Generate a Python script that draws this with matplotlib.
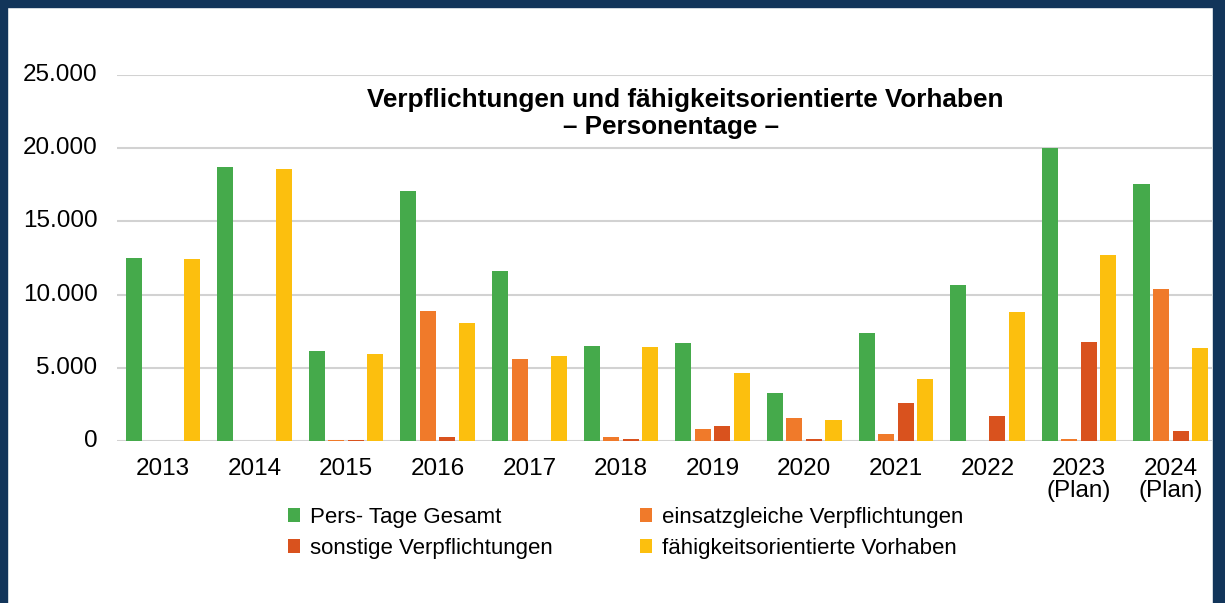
import matplotlib
matplotlib.use("Agg")
import matplotlib.pyplot as plt
import numpy as np
from matplotlib.patches import Rectangle
from matplotlib.ticker import FuncFormatter

plt.rcParams['font.family'] = ['Liberation Sans', 'DejaVu Sans']

# Data (Personentage)
years = ['2013', '2014', '2015', '2016', '2017', '2018', '2019', '2020', '2021', '2022',
         '2023\n(Plan)', '2024\n(Plan)']
pers_tage_gesamt = [12500, 18700, 6150, 17050, 11600, 6500, 6700, 3300, 7400, 10650, 20000, 17550]
einsatzgleiche = [0, 0, 100, 8900, 5600, 270, 820, 1570, 480, 0, 130, 10380]
sonstige = [0, 0, 100, 270, 0, 130, 1020, 130, 2600, 1720, 6760, 680]
faehigkeitsorientiert = [12450, 18580, 5950, 8060, 5800, 6400, 4650, 1430, 4230, 8810, 12700, 6350]

series = [
    ('Pers- Tage Gesamt', pers_tage_gesamt, '#45aa4b'),
    ('einsatzgleiche Verpflichtungen', einsatzgleiche, '#f07a2a'),
    ('sonstige Verpflichtungen', sonstige, '#d9521e'),
    ('fähigkeitsorientierte Vorhaben', faehigkeitsorientiert, '#fcbf0e'),
]

W, H = 1225, 603
fig = plt.figure(figsize=(W / 100, H / 100), dpi=100)
fig.patch.set_facecolor('white')

# dark navy frame around the picture
navy = '#12355a'
fig.patches.append(Rectangle((0, 0), 7 / W, 1, transform=fig.transFigure, color=navy, zorder=0))
fig.patches.append(Rectangle((0, 1 - 7 / H), 1, 7 / H, transform=fig.transFigure, color=navy, zorder=0))
fig.patches.append(Rectangle((1 - 12 / W, 0), 12 / W, 1, transform=fig.transFigure, color=navy, zorder=0))

ax = fig.add_axes([117 / W, (H - 441) / H, (1212 - 117) / W, (441 - 75) / H])
ax.set_facecolor('white')

x = np.arange(len(years))
step = 0.213
width = 0.175
handles = []
for i, (label, vals, col) in enumerate(series):
    bars = ax.bar(x + (i - 1.5) * step, vals, width, color=col, label=label, zorder=3)
    handles.append(bars)

ax.set_xlim(-0.5, 11.45)
ax.set_ylim(0, 25000)
ax.set_yticks(range(0, 25001, 5000))
ax.yaxis.set_major_formatter(FuncFormatter(lambda v, p: f'{int(v):,}'.replace(',', '.')))
ax.grid(axis='y', color='#d2d2d2', linewidth=1.5, zorder=0)
for s in ax.spines.values():
    s.set_visible(False)
ax.set_xticks(x)
ax.set_xticklabels(years, linespacing=1.0)
ax.tick_params(axis='x', length=0, pad=12, labelsize=17.5)
ax.tick_params(axis='y', length=0, pad=14, labelsize=17.5)
for t in ax.get_yticklabels():
    t.set_verticalalignment('center')

fig.text(685 / W, 1 - 100 / H, 'Verpflichtungen und fähigkeitsorientierte Vorhaben',
         ha='center', va='center', fontsize=18.8, fontweight='bold')
fig.text(671 / W, 1 - 127 / H, '– Personentage –',
         ha='center', va='center', fontsize=18.8, fontweight='bold')

# legend filled column-wise: reorder so rows read as in the reference
order = [0, 2, 1, 3]
leg = fig.legend(handles=[handles[i] for i in order],
                 labels=[series[i][0] for i in order], ncol=2,
                 loc='center left', bbox_to_anchor=(268 / W, 1 - 533 / H),
                 frameon=False, fontsize=16, handlelength=0.55, handleheight=0.55,
                 handletextpad=0.45, columnspacing=3.9, labelspacing=0.45)

fig.savefig('out.png', dpi=100)
